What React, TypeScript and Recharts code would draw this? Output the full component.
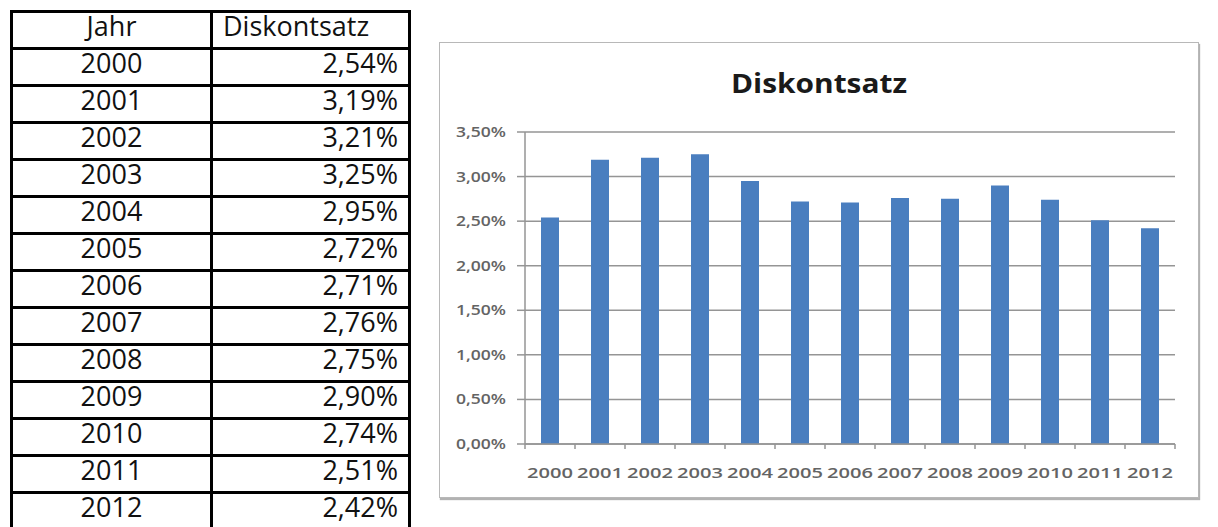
import React from "react";
import { Bar, BarChart, CartesianGrid, XAxis, YAxis } from "recharts";

const years = ["2000", "2001", "2002", "2003", "2004", "2005", "2006", "2007", "2008", "2009", "2010", "2011", "2012"];
const rates = [2.54, 3.19, 3.21, 3.25, 2.95, 2.72, 2.71, 2.76, 2.75, 2.9, 2.74, 2.51, 2.42];
const yTicks = [0, 0.5, 1, 1.5, 2, 2.5, 3, 3.5];
const headers = ["Jahr", "Diskontsatz"];
const title = "Diskontsatz";

const fmtPct = (v: number) => v.toFixed(2).replace(".", ",") + "%";

const data = years.map((year, i) => ({ year, rate: rates[i] }));

const AXIS = "#959595";
const LABEL = "#646464";

function YTick({ x, y, payload }: any) {
  return (
    <text x={x} y={y} dy={5} textAnchor="end" fontSize={14} fontWeight={600} fontFamily="Open Sans" fill={LABEL}
      textLength={50} lengthAdjust="spacingAndGlyphs">
      {fmtPct(payload.value)}
    </text>
  );
}

function XTick({ x, y, payload, index, visibleTicksCount }: any) {
  const half = payload.offset || 25;
  return (
    <g>
      <line x1={x - half} x2={x - half} y1={y} y2={y + 5} stroke={AXIS} strokeWidth={1.5} />
      {index === visibleTicksCount - 1 && (
        <line x1={x + half} x2={x + half} y1={y} y2={y + 5} stroke={AXIS} strokeWidth={1.5} />
      )}
      <text x={x} y={y + 34} textAnchor="middle" fontSize={14} fontWeight={600} fontFamily="Open Sans" fill={LABEL}
        textLength={46} lengthAdjust="spacingAndGlyphs">
        {payload.value}
      </text>
    </g>
  );
}

const cellBase: React.CSSProperties = {
  position: "absolute",
  boxSizing: "border-box",
  border: "3px solid #000",
  height: 40,
  display: "flex",
  alignItems: "flex-end",
  paddingBottom: 8,
  fontFamily: "Open Sans",
  fontSize: 27,
  lineHeight: 1,
  color: "#111",
};

function Table() {
  const rows = [headers, ...years.map((y, i) => [y, fmtPct(rates[i])])];
  return (
    <>
      {rows.map((r, ri) => (
        <React.Fragment key={ri}>
          <div style={{ ...cellBase, left: 10, top: 10 + ri * 37, width: 203, justifyContent: "center" }}>
            {r[0]}
          </div>
          <div
            style={{
              ...cellBase,
              left: 210,
              top: 10 + ri * 37,
              width: 201,
              justifyContent: ri === 0 ? "flex-start" : "flex-end",
              paddingLeft: ri === 0 ? 10 : 0,
              paddingRight: ri === 0 ? 0 : 10,
            }}
          >
            {r[1]}
          </div>
        </React.Fragment>
      ))}
    </>
  );
}

export default function App() {
  return (
    <div style={{ position: "absolute", left: 0, top: 0, width: 1218, height: 527, overflow: "hidden", background: "#fff" }}>
      <Table />
      <div
        style={{
          position: "absolute",
          left: 439,
          top: 42,
          width: 760,
          height: 456,
          boxSizing: "border-box",
          border: "1.5px solid #b8b8b8",
          boxShadow: "1px 2px 1px rgba(0,0,0,0.3)",
        }}
      />
      <div style={{ position: "absolute", left: 440, top: 43 }}>
        <svg width={758} height={60} style={{ position: "absolute", left: 0, top: 0 }}>
          <text x={379} y={50} textAnchor="middle" fontSize={26} fontWeight="bold" fontFamily="Open Sans"
            fill="#1a1a1a" textLength={176} lengthAdjust="spacingAndGlyphs">
            {title}
          </text>
        </svg>
        <BarChart width={758} height={454} data={data} margin={{ top: 89, right: 23, left: 0, bottom: 0 }}
          barCategoryGap="32%">
          <CartesianGrid vertical={false} stroke={AXIS} strokeWidth={1.5} />
          <XAxis dataKey="year" height={53} axisLine={{ stroke: AXIS, strokeWidth: 1.5 }} tickLine={false}
            tickSize={0} tickMargin={0} tick={<XTick />} interval={0} />
          <YAxis width={85} domain={[0, 3.5]} ticks={yTicks} axisLine={{ stroke: AXIS, strokeWidth: 1.5 }}
            tickLine={{ stroke: AXIS, strokeWidth: 1.5 }} tickSize={8} tickMargin={11} tick={<YTick />}
            interval={0} />
          <Bar dataKey="rate" fill="#4a7ebf" isAnimationActive={false} />
        </BarChart>
      </div>
    </div>
  );
}
